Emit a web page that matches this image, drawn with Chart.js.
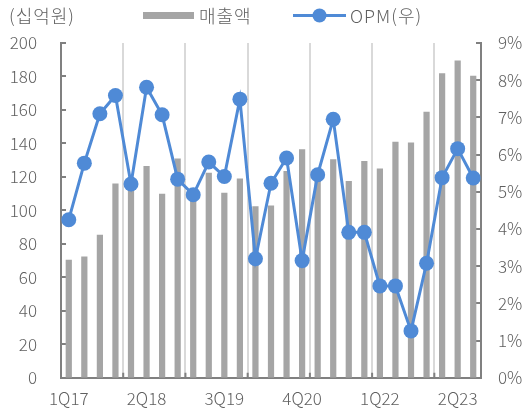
<!DOCTYPE html>
<html>
<head>
<meta charset="utf-8">
<script src="https://cdn.jsdelivr.net/npm/chart.js@4.4.0/dist/chart.umd.min.js"></script>
<style>
html,body{margin:0;padding:0;background:#fff;}
#wrap{width:527px;height:412px;position:relative;}
</style>
</head>
<body>
<div id="wrap"><canvas id="c"></canvas></div>
<script>
const categories = ['1Q17','2Q17','3Q17','4Q17','1Q18','2Q18','3Q18','4Q18','1Q19','2Q19','3Q19','4Q19','1Q20','2Q20','3Q20','4Q20','1Q21','2Q21','3Q21','4Q21','1Q22','2Q22','3Q22','4Q22','1Q23','2Q23','3Q23'];
const sales = [70.5,72.5,85.5,116,114,126.5,110,131,106,122.5,110.5,119,102.5,103,123.5,136.5,121,130.5,117.5,129.5,125,141,140.5,159,182,189.5,180.5];
const opm = [4.25,5.77,7.10,7.59,5.21,7.81,7.07,5.34,4.92,5.80,5.41,7.49,3.20,5.23,5.91,3.15,5.46,6.95,3.91,3.91,2.47,2.47,1.26,3.08,5.38,6.16,5.37];
const seriesNames = ['매출액','OPM(우)'];
const unitLabel = '(십억원)';

const FONT = '"Noto Sans CJK KR", "Noto Sans", sans-serif';
const TXT = '#606060';
const BAR = '#a5a5a5';
const BLUE = '#4f8ad6';
const AXIS = '#808080';

const extras = {
  id: 'extras',
  beforeDatasetsDraw(chart) {
    const ctx = chart.ctx;
    const y = chart.scales.y, y2 = chart.scales.y2, x = chart.scales.x;
    ctx.save();
    ctx.strokeStyle = AXIS;
    ctx.lineWidth = 2;
    ctx.beginPath();
    y.ticks.forEach(t => {
      const p = Math.round(y.getPixelForValue(t.value));
      ctx.moveTo(y.right, p); ctx.lineTo(y.right + 5, p);
    });
    y2.ticks.forEach(t => {
      const p = Math.round(y2.getPixelForValue(t.value));
      ctx.moveTo(y2.left, p); ctx.lineTo(y2.left - 5, p);
    });
    for (let i = 4; i < categories.length; i += 4) {
      const p = (x.getPixelForValue(i - 1) + x.getPixelForValue(i)) / 2;
      ctx.moveTo(p, x.top); ctx.lineTo(p, x.top - 5);
    }
    ctx.stroke();
    ctx.restore();
  },
  afterDraw(chart) {
    const ctx = chart.ctx;
    ctx.save();
    ctx.font = '300 18px ' + FONT;
    try { ctx.letterSpacing = '1px'; } catch (e) {}
    ctx.fillStyle = TXT;
    ctx.textBaseline = 'middle';
    ctx.textAlign = 'left';
    ctx.fillText(unitLabel, 9, 16);
    ctx.fillStyle = BAR;
    ctx.fillRect(143, 12, 51, 7);
    ctx.fillStyle = TXT;
    ctx.fillText(seriesNames[0], 199, 16);
    ctx.strokeStyle = BLUE;
    ctx.lineWidth = 3;
    ctx.beginPath(); ctx.moveTo(293, 15.5); ctx.lineTo(346, 15.5); ctx.stroke();
    ctx.fillStyle = BLUE;
    ctx.beginPath(); ctx.arc(319.5, 15.5, 7, 0, Math.PI * 2); ctx.fill();
    ctx.fillStyle = TXT;
    ctx.fillText(seriesNames[1], 350, 16);
    ctx.restore();
  }
};

const tickFont = { family: FONT, size: 17, weight: 300 };

new Chart(document.getElementById('c'), {
  data: {
    labels: categories,
    datasets: [
      { type: 'line', label: seriesNames[1], data: opm, yAxisID: 'y2', order: 0,
        borderColor: BLUE, backgroundColor: BLUE, borderWidth: 3,
        pointRadius: 7.5, pointBackgroundColor: BLUE, pointBorderWidth: 0, tension: 0 },
      { type: 'bar', label: seriesNames[0], data: sales, yAxisID: 'y', order: 1,
        backgroundColor: BAR, barPercentage: 0.4, categoryPercentage: 1 }
    ]
  },
  options: {
    responsive: true,
    maintainAspectRatio: false,
    animation: false,
    layout: { padding: { top: 43, left: 0, right: 0, bottom: 0 } },
    plugins: { legend: { display: false }, tooltip: { enabled: false } },
    scales: {
      x: {
        offset: true,
        grid: {
          offset: true,
          drawTicks: false,
          lineWidth: 2,
          color: c => (c.index > 0 && c.index % 4 === 0 && c.index < categories.length) ? '#d9d9d9' : 'rgba(0,0,0,0)'
        },
        border: { display: true, color: AXIS, width: 2 },
        ticks: {
          autoSkip: false, maxRotation: 0, minRotation: 0, padding: 11,
          color: TXT, font: tickFont,
          callback: (v, i) => (i % 5 === 0 ? categories[i] : '')
        },
        afterFit: s => { s.height = 34; }
      },
      y: {
        position: 'left', min: 0, max: 200,
        ticks: { stepSize: 20, padding: 24, color: TXT, font: tickFont },
        grid: { display: false, drawTicks: false },
        border: { display: true, color: AXIS, width: 2 },
        afterFit: s => { s.width = 61; }
      },
      y2: {
        position: 'right', min: 0, max: 9,
        ticks: { stepSize: 1, padding: 17, color: TXT, font: tickFont, callback: v => v + '%' },
        grid: { display: false, drawTicks: false },
        border: { display: true, color: AXIS, width: 2 },
        afterFit: s => { s.width = 46; }
      }
    }
  },
  plugins: [extras]
});
</script>
</body>
</html>
